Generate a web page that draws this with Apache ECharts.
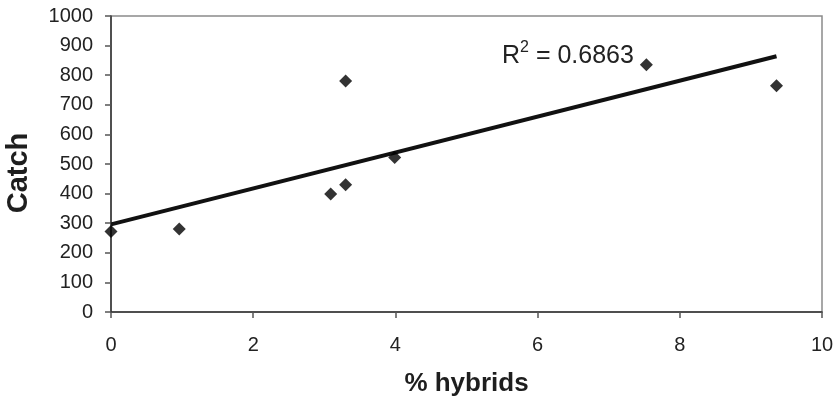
<!DOCTYPE html>
<html>
<head>
<meta charset="utf-8">
<script src="https://cdn.jsdelivr.net/npm/echarts@6/dist/echarts.min.js"></script>
<style>
  html, body { margin: 0; padding: 0; background: #fff; }
  #chart { width: 835px; height: 402px; }
</style>
</head>
<body>
<div id="chart"></div>
<script>
// values
const hybrids = [0, 0.96, 3.09, 3.3, 3.3, 3.99, 7.53, 9.36];
const catchVals = [272, 280, 399, 430, 780, 522, 835, 764];
const xTicks = [0, 2, 4, 6, 8, 10];
const yTicks = [0, 100, 200, 300, 400, 500, 600, 700, 800, 900, 1000];
const r2Label = "0.6863";

// least squares fit for the trend line
const n = hybrids.length;
const mx = hybrids.reduce((a, b) => a + b, 0) / n;
const my = catchVals.reduce((a, b) => a + b, 0) / n;
let sxy = 0, sxx = 0;
for (let i = 0; i < n; i++) {
  sxy += (hybrids[i] - mx) * (catchVals[i] - my);
  sxx += (hybrids[i] - mx) * (hybrids[i] - mx);
}
const slope = sxy / sxx;
const icpt = my - slope * mx;
const xEnd = Math.max(...hybrids);
const trend = [[0, icpt], [xEnd, icpt + slope * xEnd]];

const chart = echarts.init(document.getElementById("chart"));
const font = "'Liberation Sans', Arial, sans-serif";

chart.setOption({
  animation: false,
  textStyle: { fontFamily: font },
  grid: {
    left: 111, right: 13, top: 16, bottom: 90,
    outerBoundsMode: "none",
    show: true, borderColor: "#8a8a8a", borderWidth: 1.5, backgroundColor: "#fff"
  },
  xAxis: {
    type: "value",
    min: xTicks[0], max: xTicks[xTicks.length - 1], interval: 2,
    name: "% hybrids", nameLocation: "middle", nameGap: 59,
    nameTextStyle: { fontSize: 26, fontWeight: "bold", color: "#1e1e1e", fontFamily: font },
    axisLine: { show: true, lineStyle: { color: "#333", width: 1.5 } },
    axisTick: { show: true, length: 6, lineStyle: { color: "#555", width: 1.5 } },
    axisLabel: { fontSize: 20, color: "#222", margin: 23, fontFamily: font },
    splitLine: { show: false }
  },
  yAxis: {
    type: "value",
    min: yTicks[0], max: yTicks[yTicks.length - 1], interval: 100,
    name: "Catch", nameLocation: "middle", nameGap: 78,
    nameTextStyle: { fontSize: 29, fontWeight: "bold", color: "#1e1e1e", fontFamily: font, padding: [0, 18, 0, 0] },
    axisLine: { show: true, lineStyle: { color: "#333", width: 1.5 } },
    axisTick: { show: true, length: 6, lineStyle: { color: "#555", width: 1.5 } },
    axisLabel: { fontSize: 20, color: "#222", margin: 18, fontFamily: font, formatter: v => String(v) },
    splitLine: { show: false }
  },
  series: [
    {
      type: "line",
      data: trend,
      symbol: "none",
      lineStyle: { color: "#111", width: 4 },
      z: 2
    },
    {
      type: "scatter",
      data: hybrids.map((x, i) => [x, catchVals[i]]),
      symbol: "diamond",
      symbolSize: [13, 13],
      itemStyle: { color: "#000" },
      z: 3
    }
  ],
  graphic: [
    {
      type: "text",
      left: 502,
      top: 40,
      style: {
        text: "{r|R}{sup|2}{r| = " + r2Label + "}",
        rich: {
          r: { fontSize: 25, fill: "#222", fontFamily: font, verticalAlign: "bottom", lineHeight: 29 },
          sup: { fontSize: 16, fill: "#222", fontFamily: font, verticalAlign: "top", lineHeight: 16 }
        }
      }
    }
  ]
});
</script>
</body>
</html>
